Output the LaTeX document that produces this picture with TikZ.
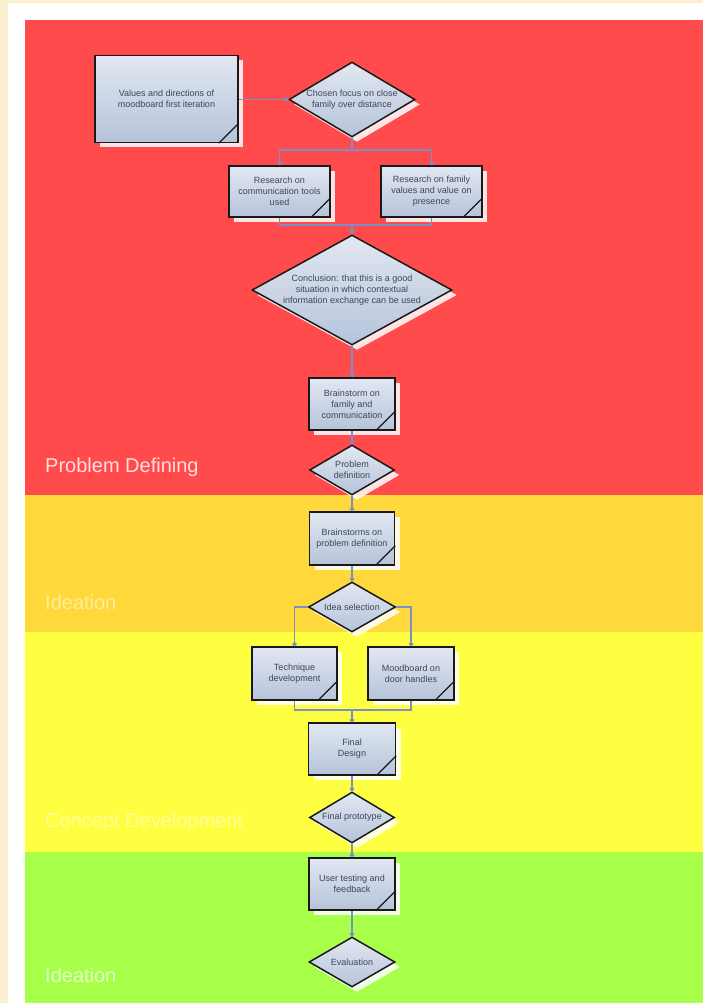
\documentclass[tikz,border=0pt]{standalone}
\usepackage{fontspec}
\setmainfont{Liberation Sans}
\usetikzlibrary{shapes.geometric,shadows,arrows.meta}
\definecolor{cream}{HTML}{FBEFD0}
\definecolor{bandred}{HTML}{FF4B4B}
\definecolor{bandorange}{HTML}{FFD93C}
\definecolor{bandyellow}{HTML}{FFFF42}
\definecolor{bandgreen}{HTML}{A8FF4A}
\definecolor{boxtop}{HTML}{E2E8F2}
\definecolor{boxbot}{HTML}{B5C3DA}
\definecolor{conncol}{HTML}{7B8FC6}
\definecolor{txtcol}{HTML}{3E4656}
\newcommand\pagecurl[1]{\draw[curlline] ([xshift=-20pt]#1.south east) -- ([yshift=20pt]#1.south east);}
\tikzset{
  flowshape/.style={draw=black!90, line width=1.5pt, top color=boxtop, bottom color=boxbot,
    drop shadow={shadow xshift=5pt, shadow yshift=-5pt, fill=white, opacity=0.85},
    text=txtcol, font=\fontsize{9}{11}\selectfont, align=center, inner sep=0pt},
  procbox/.style={flowshape, rectangle, minimum width=#1},
  decision/.style={flowshape, diamond},
  curlline/.style={draw=black!90, line width=1.3pt},
  conn/.style={draw=conncol, line width=1.2pt, -{Circle[length=4.5pt]}},
  bar/.style={draw=conncol, line width=1.2pt},
  bandlabel/.style={anchor=base west, font=\fontsize{20}{24}\selectfont, inner sep=0pt}
}
\begin{document}
\begin{tikzpicture}[x=1pt,y=-1pt]
\useasboundingbox (0,0) rectangle (703,1003);
% background
\fill[cream] (0,0) rectangle (703,1003);
\fill[white] (8,3) rectangle (703,1003);
\fill[bandred] (25,20) rectangle (703,495);
\fill[bandorange] (25,495) rectangle (703,632);
\fill[bandyellow] (25,632) rectangle (703,852);
\fill[bandgreen] (25,852) rectangle (703,1003);
% band labels
\node[bandlabel, text=white, opacity=0.82] (lbl1) at (45,472) {Problem Defining};
\node[bandlabel, text=white, opacity=0.5] (lbl2) at (45,609) {Ideation};
\node[bandlabel, text=white, opacity=0.45] (lbl3) at (45,827) {Concept Development};
\node[bandlabel, text=white, opacity=0.7] (lbl4) at (45,982) {Ideation};
% nodes
\node[procbox=143pt, minimum height=87pt] (b1) at (166.5,99) {Values and directions of\\moodboard first iteration};
\node[decision, minimum width=126pt, minimum height=75pt, aspect=1.68] (d1) at (352,99.5) {Chosen focus on close\\family over distance};
\node[procbox=101pt, minimum height=51pt] (b3) at (279.5,191.5) {Research on\\communication tools\\used};
\node[procbox=101pt, minimum height=51pt] (b4) at (431.5,191.5) {Research on family\\values and value on\\presence};
\node[decision, minimum width=200pt, minimum height=110pt, aspect=1.82] (d5) at (352,290) {Conclusion: that this is a good\\situation in which contextual\\information exchange can be used};
\node[procbox=86pt, minimum height=52pt] (b6) at (352,404) {Brainstorm on\\family and\\communication};
\node[decision, minimum width=85pt, minimum height=50pt, aspect=1.7] (d7) at (352,470) {Problem\\definition};
\node[procbox=85pt, minimum height=53pt] (b8) at (352,538.5) {Brainstorms on\\problem definition};
\node[decision, minimum width=87pt, minimum height=50pt, aspect=1.74] (d9) at (352,607) {Idea selection};
\node[procbox=85pt, minimum height=53pt] (b10) at (294.5,673.5) {Technique\\development};
\node[procbox=86pt, minimum height=53pt] (b11) at (411,673.5) {Moodboard on\\door handles};
\node[procbox=87pt, minimum height=52pt] (b12) at (352,749) {Final\\Design};
\node[decision, minimum width=85pt, minimum height=51pt, aspect=1.67] (d13) at (352,817.5) {Final prototype};
\node[procbox=86pt, minimum height=52pt] (b14) at (352,884) {User testing and\\feedback};
\node[decision, minimum width=86pt, minimum height=50pt, aspect=1.72] (d15) at (352,962) {Evaluation};
% page curls
\pagecurl{b1}\pagecurl{b3}\pagecurl{b4}\pagecurl{b6}\pagecurl{b8}
\pagecurl{b10}\pagecurl{b11}\pagecurl{b12}\pagecurl{b14}
% junctions
\coordinate (j1) at (352,150);
\coordinate (j2) at (352,225);
\coordinate (j3) at (352,710);
% connectors
\draw[conn] (b1.east |- d1.west) -- (d1.west);
\draw[bar] (d1.south) -- (j1);
\draw[conn] (j1) -| (b3.north);
\draw[conn] (j1) -| (b4.north);
\draw[bar] (b3.south) |- (j2);
\draw[bar] (b4.south) |- (j2);
\draw[conn] (j2) -- (d5.north);
\draw[conn] (d5.south) -- (b6.north);
\draw[conn] (b6.south) -- (d7.north);
\draw[conn] (d7.south) -- (b8.north);
\draw[conn] (b8.south) -- (d9.north);
\draw[conn] (d9.west) -| (b10.north);
\draw[conn] (d9.east) -| (b11.north);
\draw[bar] (b10.south) |- (j3);
\draw[bar] (b11.south) |- (j3);
\draw[conn] (j3) -- (b12.north);
\draw[conn] (b12.south) -- (d13.north);
\draw[conn] (d13.south) -- (b14.north);
\draw[conn] (b14.south) -- (d15.north);
\end{tikzpicture}
\end{document}
